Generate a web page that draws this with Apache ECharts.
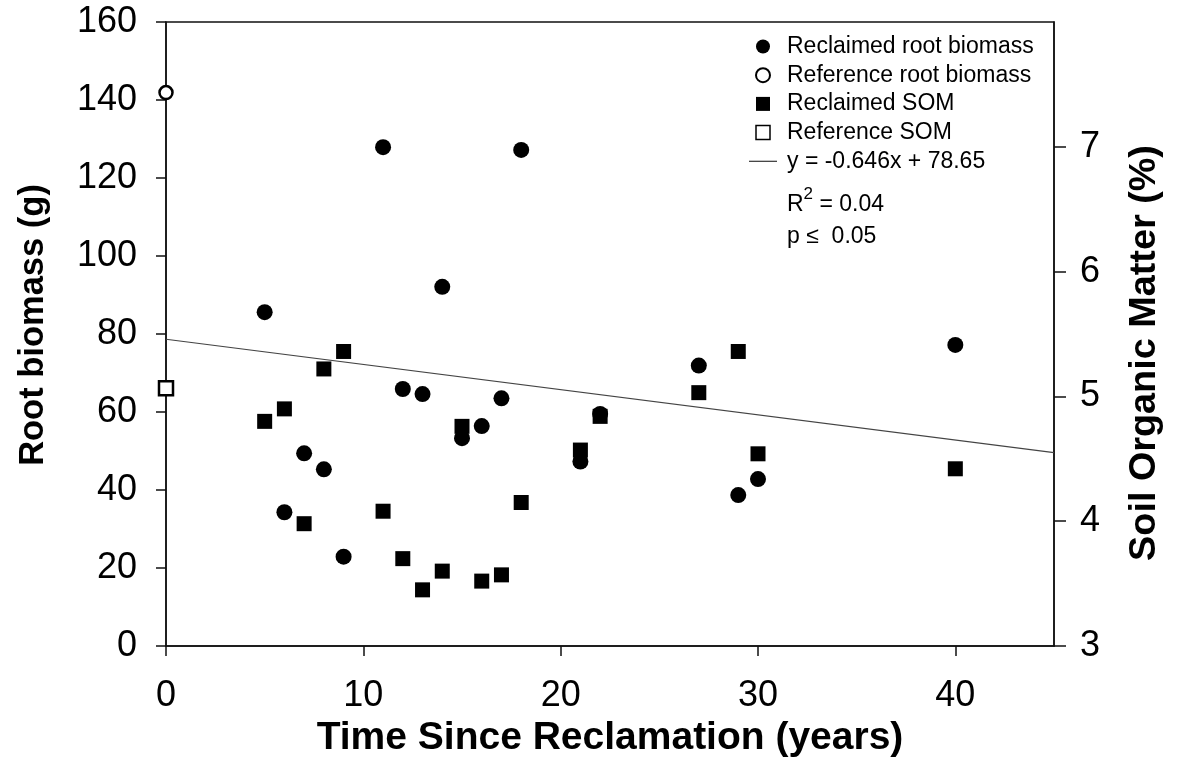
<!DOCTYPE html>
<html>
<head>
<meta charset="utf-8">
<title>Root biomass and soil organic matter</title>
<script src="https://cdn.jsdelivr.net/npm/echarts@6/dist/echarts.min.js"></script>
<style>
  html, body { margin: 0; padding: 0; background: #fff; }
  #chart { width: 1179px; height: 769px; }
</style>
</head>
<body>
<div id="chart"></div>
<script>
// Years since reclamation for each sampled site
const reclaimedYears = [5, 6, 7, 8, 9, 11, 12, 13, 14, 15, 16, 17, 18, 21, 22, 27, 29, 30, 40];
// Root biomass (g) at reclaimed sites
const reclaimedRoot = [85.6, 34.3, 49.4, 45.3, 22.9, 127.9, 65.9, 64.6, 92.1, 53.3, 56.4, 63.5, 127.2, 47.3, 59.5, 71.9, 38.7, 42.8, 77.2];
// Soil organic matter (%) at reclaimed sites
const reclaimedSOM = [4.80, 4.90, 3.98, 5.22, 5.36, 4.08, 3.70, 3.45, 3.60, 4.76, 3.52, 3.57, 4.15, 4.57, 4.84, 5.03, 5.36, 4.54, 4.42];
// Undisturbed reference site (plotted at year 0)
const referenceYear = [0];
const referenceRoot = [141.9];
const referenceSOM = [5.065];
// Fitted regression of root biomass on time
const fitSlope = -0.646;
const fitIntercept = 78.65;
const fitRange = [0, 45];
// Tick values
const xTicks = [0, 10, 20, 30, 40];
const somTicks = [3, 4, 5, 6, 7];

const pairs = (xs, ys) => xs.map((x, i) => [x, ys[i]]);
const fitLine = fitRange.map(x => [x, fitIntercept + fitSlope * x]);

const FONT = '"Liberation Sans", Arial, sans-serif';
const AXIS_COLOR = '#111';
const squarePath = 'path://M0,0h10v10h-10z';
const dashPath = 'path://M0,0h28v1.2h-28z';

const chart = echarts.init(document.getElementById('chart'), null, { renderer: 'canvas' });

chart.setOption({
  animation: false,
  backgroundColor: '#fff',
  textStyle: { fontFamily: FONT, color: '#000' },
  grid: {
    left: 166, right: 125, top: 22, bottom: 123,
    show: true, borderColor: AXIS_COLOR, borderWidth: 1.5, backgroundColor: 'transparent'
  },
  legend: {
    orient: 'vertical',
    left: 744,
    top: 29,
    itemWidth: 28,
    itemHeight: 14,
    itemGap: 3.7,
    symbolKeepAspect: true,
    selectedMode: false,
    textStyle: { fontFamily: FONT, fontSize: 23, color: '#000', lineHeight: 25, padding: [0, 0, 0, 5] },
    data: [
      { name: 'Reclaimed root biomass', icon: 'circle', itemStyle: { color: '#000', borderWidth: 0 } },
      { name: 'Reference root biomass', icon: 'circle', itemStyle: { color: '#fff', borderColor: '#000', borderWidth: 2 } },
      { name: 'Reclaimed SOM', icon: squarePath, itemStyle: { color: '#000', borderWidth: 0 } },
      { name: 'Reference SOM', icon: squarePath, itemStyle: { color: '#fff', borderColor: '#000', borderWidth: 1.5 } },
      { name: 'y = -0.646x + 78.65', icon: dashPath, itemStyle: { color: '#333', borderWidth: 0 } }
    ]
  },
  graphic: [
    {
      type: 'text', left: 787, top: 186,
      style: {
        text: '{b|R}{sup|2}{b| = 0.04}',
        rich: {
          b: { fontFamily: FONT, fontSize: 23, fill: '#000', verticalAlign: 'bottom', lineHeight: 30 },
          sup: { fontFamily: FONT, fontSize: 17, fill: '#000', verticalAlign: 'top', lineHeight: 30, padding: [0, 0, 12, 0] }
        }
      }
    },
    {
      type: 'text', left: 787, top: 225,
      style: { text: 'p \u2264  0.05', fontFamily: FONT, fontSize: 23, fill: '#000' }
    }
  ],
  xAxis: {
    type: 'value',
    min: 0, max: 45, interval: 10,
    name: 'Time Since Reclamation (years)',
    nameLocation: 'middle',
    nameGap: 68,
    nameTextStyle: { fontFamily: FONT, fontSize: 39, fontWeight: 'bold', color: '#000' },
    axisLine: { show: true, onZero: false, lineStyle: { color: AXIS_COLOR, width: 1.5 } },
    axisTick: { show: true, inside: false, length: 10, customValues: xTicks, lineStyle: { color: AXIS_COLOR, width: 1.5 } },
    axisLabel: { fontFamily: FONT, fontSize: 36, color: '#000', margin: 32, customValues: xTicks },
    splitLine: { show: false }
  },
  yAxis: [
    {
      type: 'value',
      position: 'left',
      min: 0, max: 160, interval: 20,
      name: 'Root biomass (g)',
      nameLocation: 'middle',
      nameGap: 115,
      nameRotate: 90,
      nameTextStyle: { fontFamily: FONT, fontSize: 34.5, fontWeight: 'bold', color: '#000', padding: [0, 0, 0, 18] },
      axisLine: { show: true, lineStyle: { color: AXIS_COLOR, width: 1.5 } },
      axisTick: { show: true, inside: false, length: 10, lineStyle: { color: AXIS_COLOR, width: 1.5 } },
      axisLabel: { fontFamily: FONT, fontSize: 36, color: '#000', margin: 29 },
      splitLine: { show: false }
    },
    {
      type: 'value',
      position: 'right',
      min: 3, max: 8, interval: 1,
      name: 'Soil Organic Matter (%)',
      nameLocation: 'middle',
      nameGap: 72,
      nameRotate: 90,
      nameTextStyle: { fontFamily: FONT, fontSize: 37.8, fontWeight: 'bold', color: '#000', padding: [0, 38, 0, 0] },
      axisLine: { show: true, lineStyle: { color: AXIS_COLOR, width: 1.5 } },
      axisTick: { show: true, inside: false, length: 12, customValues: somTicks, lineStyle: { color: AXIS_COLOR, width: 1.5 } },
      axisLabel: { fontFamily: FONT, fontSize: 36, color: '#000', margin: 26, customValues: somTicks },
      splitLine: { show: false }
    }
  ],
  series: [
    {
      name: 'y = -0.646x + 78.65',
      type: 'line',
      yAxisIndex: 0,
      data: fitLine,
      showSymbol: false,
      symbol: 'none',
      lineStyle: { color: '#444', width: 1.2 },
      itemStyle: { color: '#444' },
      silent: true,
      z: 1
    },
    {
      name: 'Reclaimed root biomass',
      type: 'scatter',
      yAxisIndex: 0,
      data: pairs(reclaimedYears, reclaimedRoot),
      symbol: 'circle',
      symbolSize: 16,
      itemStyle: { color: '#000', opacity: 1 },
      clip: false,
      z: 2
    },
    {
      name: 'Reference root biomass',
      type: 'scatter',
      yAxisIndex: 0,
      data: pairs(referenceYear, referenceRoot),
      symbol: 'circle',
      symbolSize: 13,
      itemStyle: { color: '#fff', borderColor: '#000', borderWidth: 2.5, opacity: 1 },
      clip: false,
      z: 3
    },
    {
      name: 'Reclaimed SOM',
      type: 'scatter',
      yAxisIndex: 1,
      data: pairs(reclaimedYears, reclaimedSOM),
      symbol: 'rect',
      symbolSize: 15,
      itemStyle: { color: '#000', opacity: 1 },
      clip: false,
      z: 4
    },
    {
      name: 'Reference SOM',
      type: 'scatter',
      yAxisIndex: 1,
      data: pairs(referenceYear, referenceSOM),
      symbol: 'rect',
      symbolSize: 14,
      itemStyle: { color: '#fff', borderColor: '#000', borderWidth: 2.5, opacity: 1 },
      clip: false,
      z: 5
    }
  ]
});
</script>
</body>
</html>
